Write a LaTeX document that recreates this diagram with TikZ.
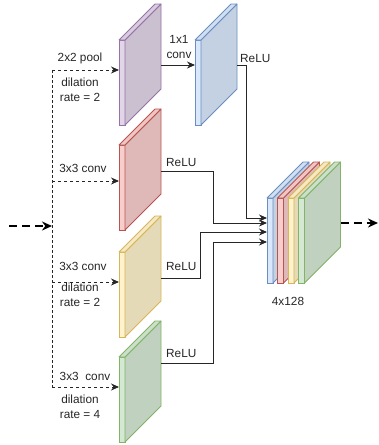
\documentclass[tikz,border=0pt]{standalone}
\usepackage{fontspec}
\setmainfont{Liberation Sans}
\usetikzlibrary{arrows.meta, positioning, calc}

\definecolor{purplefill}{HTML}{E1D5E7}
\definecolor{purpleline}{HTML}{9673A6}
\definecolor{bluefill}{HTML}{DAE8FC}
\definecolor{blueline}{HTML}{6C8EBF}
\definecolor{redfill}{HTML}{F8CECC}
\definecolor{redline}{HTML}{B85450}
\definecolor{yellowfill}{HTML}{FFF2CC}
\definecolor{yellowline}{HTML}{D6B656}
\definecolor{greenfill}{HTML}{D5E8D4}
\definecolor{greenline}{HTML}{82B366}

% feature map slab: name, top-left of the front face, colour
\newcommand{\slab}[3]{%
  \node[slabfront, fill=#3fill, draw=#3line, anchor=north west] (#1) at (#2) {};
  \filldraw[fill=#3fill!90!black, draw=#3line, line width=0.8pt, line join=round]
    (#1.north east) -- ++(36,-36) -- ++(0,85) -- (#1.south east) -- cycle;
  \filldraw[fill=#3fill!96!black, draw=#3line, line width=0.8pt, line join=round]
    (#1.north west) -- ++(36,-36) -- ++(6,0) -- (#1.north east) -- cycle;
  \coordinate (#1-back) at ($(#1.north east)+(36,-36)$);
}

\begin{document}
\begin{tikzpicture}[
    x=1pt, y=-1pt,
    slabfront/.style={rectangle, draw, line width=0.8pt, minimum width=6pt, minimum height=85pt, inner sep=0pt, outer sep=0pt},
    lbl/.style={align=center, font=\fontsize{11.8}{15}\selectfont, text=black!85, inner sep=0pt},
    trunk/.style={draw=black!85, line width=0.9pt, dash pattern=on 2.5pt off 2.5pt},
    branch/.style={draw=black!85, line width=0.9pt, dash pattern=on 3pt off 3pt, -{Stealth[length=8pt,width=7pt]}},
    feed/.style={draw=black, line width=2pt, dash pattern=on 8pt off 5pt, -{Stealth[length=10pt,width=9pt]}},
    relu/.style={draw=black!85, line width=0.9pt, -{Stealth[length=8pt,width=7pt]}}
]
\useasboundingbox (0,0) rectangle (379,445);

% Slabs
\slab{poolslab}{119,40}{purple}
\slab{oneslab}{195,40}{blue}
\slab{convslab}{119,145}{red}
\slab{dilaslab}{119,252}{yellow}
\slab{dilbslab}{119,357}{green}

% Concatenated output
\slab{stka}{267,198}{blue}
\slab{stkb}{277.5,198}{red}
\slab{stkc}{288,198}{yellow}
\slab{stkd}{298.5,198}{green}

% Input and branches
\coordinate (in) at (9,226);
\coordinate (split) at (52,226);
\coordinate (out) at (378,223);
\coordinate (poolin) at ($(poolslab.north west)+(0,30)$);
\coordinate (convin) at ($(convslab.north west)+(0,36)$);
\coordinate (dilain) at ($(dilaslab.north west)+(0,30)$);
\coordinate (dilbin) at ($(dilbslab.north west)+(0,30)$);

\draw[feed] (in) -- (split);
\draw[trunk] (split |- poolin) -- (split |- dilbin);
\draw[branch] (split |- poolin) -- (poolin);
\draw[branch] (split |- convin) -- (convin);
\draw[branch] (split |- dilain) -- (dilain);
\draw[branch] (split |- dilbin) -- (dilbin);

% Branch labels
\node[lbl] (poollbl) at (80,58) {2x2 pool};
\node[lbl] (poolrate) at (80,89.5) {dilation\\rate = 2};
\node[lbl] (convlbl) at (83,168) {3x3 conv};
\node[lbl] (dilalbl) at (83,266) {3x3 conv};
\node[lbl] (dilarate) at (80,294.5) {dilation\\rate = 2};
\node[lbl] (dilblbl) at (85,376) {3x3\ \ conv};
\node[lbl] (dilbrate) at (80,406.5) {dilation\\rate = 4};

% 1x1 conv
\coordinate (poolout) at ($(poolslab-back)+(0,61)$);
\draw[relu] (poolout) -- (poolout -| oneslab.west);
\node[lbl] (onelbl) at (179,47) {1x1\\conv};

% ReLU connectors
\draw[relu] ($(oneslab-back)+(0,61)$) -- ++(9,0) |- ($(stka.north west)+(0,20)$);
\draw[relu] ($(convslab-back)+(0,62)$) -- ++(52,0) |- ($(stka.north west)+(0,25)$);
\draw[relu] ($(dilaslab-back)+(0,62)$) -- ++(39,0) |- ($(stka.north west)+(0,34)$);
\draw[relu] ($(dilbslab-back)+(0,42)$) -- ++(52,0) |- ($(stka.north west)+(0,44)$);
\node[lbl, anchor=west] (relua) at (240,58) {ReLU};
\node[lbl, anchor=west] (relub) at (166,162) {ReLU};
\node[lbl, anchor=west] (reluc) at (166,266) {ReLU};
\node[lbl, anchor=west] (relud) at (166,353) {ReLU};

% Output
\draw[feed] ($(stkd-back)+(0,61)$) -- (out);
\node[lbl] (stklbl) at (288,301) {4x128};

\end{tikzpicture}
\end{document}
